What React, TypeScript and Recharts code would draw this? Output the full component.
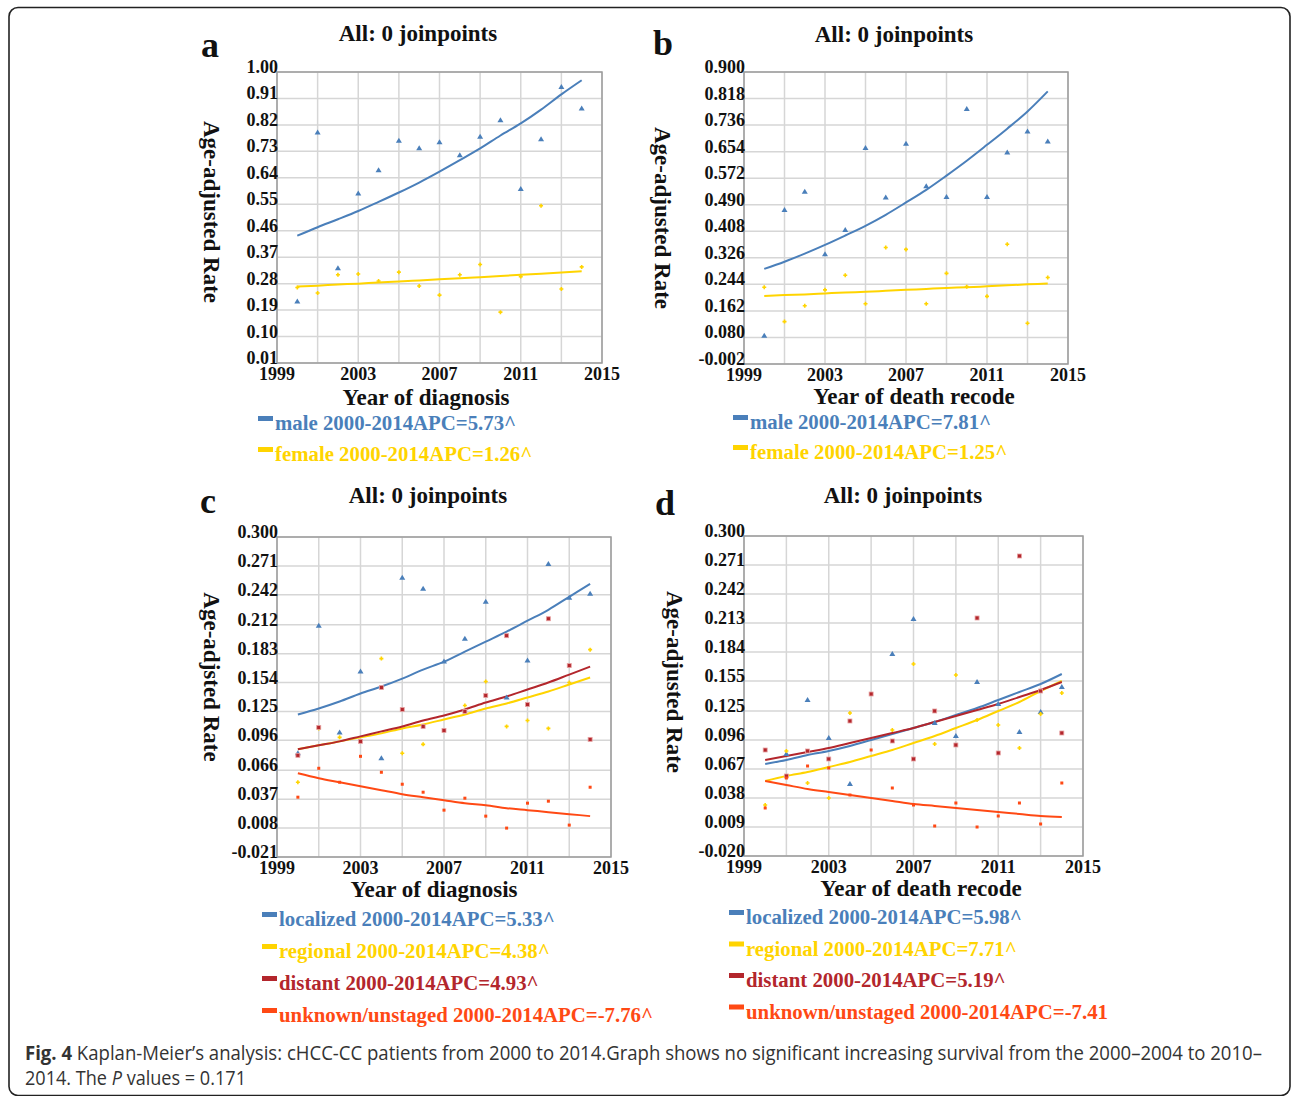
import React from "react";
import { ComposedChart, XAxis, YAxis, CartesianGrid, Line, ReferenceArea } from "recharts";

// years with observed rates
const years = [2000, 2001, 2002, 2003, 2004, 2005, 2006, 2007, 2008, 2009, 2010, 2011, 2012, 2013, 2014];
const xTicks = [1999, 2001, 2003, 2005, 2007, 2009, 2011, 2013, 2015];
const xLabels = [1999, 2003, 2007, 2011, 2015];

// panel a: year of diagnosis, by sex
const aMaleObs = [0.219, 0.794, 0.332, 0.587, 0.666, 0.766, 0.741, 0.761, 0.717, 0.78, 0.836, 0.602, 0.771, 0.949, 0.876];
const aMaleFit = [0.443, 0.472, 0.499, 0.527, 0.558, 0.59, 0.624, 0.661, 0.7, 0.74, 0.784, 0.825, 0.872, 0.924, 0.972];
const aFemaleObs = [0.267, 0.248, 0.31, 0.313, 0.289, 0.319, 0.272, 0.241, 0.31, 0.345, 0.183, 0.304, 0.545, 0.262, 0.337];
const aFemaleFit = [0.27, 0.273, 0.277, 0.28, 0.284, 0.287, 0.291, 0.295, 0.298, 0.302, 0.306, 0.31, 0.314, 0.318, 0.322];
const aTicks = [0.01, 0.1, 0.19, 0.28, 0.37, 0.46, 0.55, 0.64, 0.73, 0.82, 0.91, 1.0];

// panel b: year of death recode, by sex
const bMaleObs = [0.085, 0.474, 0.53, 0.337, 0.412, 0.665, 0.512, 0.678, 0.547, 0.514, 0.786, 0.514, 0.651, 0.716, 0.685];
const bMaleFit = [0.292, 0.314, 0.339, 0.366, 0.395, 0.425, 0.459, 0.497, 0.536, 0.58, 0.626, 0.675, 0.725, 0.778, 0.84];
const bFemaleObs = [0.235, 0.129, 0.178, 0.227, 0.272, 0.184, 0.358, 0.352, 0.184, 0.278, 0.237, 0.207, 0.368, 0.124, 0.265];
const bFemaleFit = [0.208, 0.211, 0.213, 0.216, 0.219, 0.221, 0.224, 0.227, 0.23, 0.233, 0.235, 0.238, 0.241, 0.244, 0.247];
const bTicks = [-0.002, 0.08, 0.162, 0.244, 0.326, 0.408, 0.49, 0.572, 0.654, 0.736, 0.818, 0.9];

// panel c: year of diagnosis, by stage
const cLocObs = [0.083, 0.211, 0.104, 0.165, 0.078, 0.259, 0.248, 0.175, 0.198, 0.235, 0.139, 0.176, 0.273, 0.239, 0.243];
const cLocFit = [0.122, 0.128, 0.135, 0.143, 0.15, 0.158, 0.167, 0.175, 0.185, 0.195, 0.205, 0.216, 0.227, 0.24, 0.253];
const cRegObs = [0.054, 0.108, 0.099, null, 0.178, 0.083, 0.092, null, 0.131, 0.155, 0.11, 0.116, 0.108, 0.154, 0.187];
const cRegFit = [0.087, 0.091, 0.095, 0.099, 0.103, 0.108, 0.112, 0.117, 0.122, 0.128, 0.133, 0.139, 0.145, 0.152, 0.159];
const cDisObs = [0.081, 0.109, null, 0.095, 0.149, 0.127, 0.11, 0.106, 0.125, 0.141, 0.201, 0.132, 0.218, 0.171, 0.097];
const cDisFit = [0.087, 0.091, 0.095, 0.1, 0.105, 0.11, 0.116, 0.121, 0.127, 0.134, 0.14, 0.147, 0.154, 0.162, 0.17];
const cUnkObs = [0.039, 0.068, 0.054, 0.08, 0.064, 0.052, 0.044, 0.026, 0.038, 0.02, 0.008, 0.033, 0.035, 0.011, 0.049];
const cUnkFit = [0.063, 0.058, 0.054, 0.05, 0.046, 0.042, 0.039, 0.036, 0.033, 0.031, 0.028, 0.026, 0.024, 0.022, 0.02];
const cTicks = [-0.021, 0.008, 0.037, 0.066, 0.096, 0.125, 0.154, 0.183, 0.212, 0.242, 0.271, 0.3];

// panel d: year of death recode, by stage
const dLocObs = [null, 0.082, 0.136, 0.098, 0.052, null, 0.182, 0.217, 0.113, 0.1, 0.154, 0.132, 0.104, 0.124, 0.149];
const dLocFit = [0.072, 0.076, 0.081, 0.085, 0.09, 0.096, 0.102, 0.108, 0.114, 0.121, 0.128, 0.136, 0.144, 0.152, 0.162];
const dRegObs = [0.031, 0.085, 0.053, 0.038, 0.123, null, 0.106, 0.172, 0.092, 0.161, 0.116, 0.111, 0.088, 0.122, 0.143];
const dRegFit = [0.055, 0.06, 0.064, 0.069, 0.074, 0.08, 0.086, 0.093, 0.1, 0.108, 0.116, 0.125, 0.134, 0.145, 0.155];
const dDisObs = [0.086, 0.06, 0.085, 0.077, 0.115, 0.142, 0.095, 0.077, 0.125, 0.091, 0.218, 0.083, 0.28, 0.145, 0.103];
const dDisFit = [0.076, 0.08, 0.084, 0.088, 0.093, 0.098, 0.103, 0.108, 0.114, 0.12, 0.126, 0.132, 0.139, 0.146, 0.154];
const dUnkObs = [0.028, 0.058, 0.07, 0.068, 0.041, 0.086, 0.048, 0.031, 0.01, 0.033, 0.009, 0.02, 0.033, 0.012, 0.053];
const dUnkFit = [0.055, 0.051, 0.047, 0.044, 0.041, 0.038, 0.035, 0.032, 0.03, 0.028, 0.026, 0.024, 0.022, 0.02, 0.019];
const dTicks = [-0.02, 0.009, 0.038, 0.067, 0.096, 0.125, 0.155, 0.184, 0.213, 0.242, 0.271, 0.3];

const BLUE = "#4a7fba";
const GOLD = "#ffd400";
const DARK = "#b3262c";
const ORANGE = "#ff4914";
const SERIF = "'Liberation Serif', 'Times New Roman', serif";
const CAPTION_FONT = "'Liberation Sans Narrow', 'Open Sans', sans-serif";

type Shape = "tri" | "sq" | "plus" | "dot";
type Series = { key: string; obs: (number | null)[]; fit: number[]; color: string; shape: Shape };

function marker(shape: Shape, color: string) {
  return (props: any) => {
    const { cx, cy, index } = props;
    const k = `m-${index}`;
    if (cx == null || cy == null || Number.isNaN(cy)) return <g key={k} />;
    if (shape === "tri")
      return <path key={k} d={`M${cx},${cy - 3}L${cx + 3},${cy + 2}L${cx - 3},${cy + 2}Z`} fill={color} />;
    if (shape === "sq")
      return <rect key={k} x={cx - 2} y={cy - 2} width={4} height={4} fill={color} stroke="#e7a2a2" strokeWidth={0.8} />;
    if (shape === "plus")
      return <path key={k} d={`M${cx - 2},${cy}H${cx + 2}M${cx},${cy - 2}V${cy + 2}`} stroke={color} strokeWidth={1.6} />;
    return <rect key={k} x={cx - 1.5} y={cy - 1.5} width={3} height={3} fill={color} />;
  };
}

type PanelProps = {
  left: number;
  top: number;
  plotW: number;
  plotH: number;
  yTicks: number[];
  digits: number;
  series: Series[];
};

function Panel({ left, top, plotW, plotH, yTicks, digits, series }: PanelProps) {
  const mL = 70, mT = 20, mR = 30, axisH = 30;
  const yDomain = [yTicks[0], yTicks[yTicks.length - 1]];
  const data = years.map((y, i) => {
    const row: Record<string, number | null> = { year: y };
    series.forEach((s) => {
      row[s.key] = s.obs[i];
      row[s.key + "Fit"] = s.fit[i];
    });
    return row;
  });

  const xTick = (p: any) => {
    const v = p.payload.value;
    if (!xLabels.includes(v)) return <g />;
    return (
      <text x={p.x} y={p.y + 17} textAnchor="middle" fontFamily={SERIF} fontWeight="bold" fontSize={18} fill="#111">
        {v}
      </text>
    );
  };
  const yTick = (p: any) => (
    <text x={p.x + 1} y={p.y + 1} textAnchor="end" fontFamily={SERIF} fontWeight="bold" fontSize={18} fill="#111">
      {Number(p.payload.value).toFixed(digits)}
    </text>
  );

  return (
    <div style={{ position: "absolute", left: left - mL, top: top - mT }}>
      <ComposedChart
        width={plotW + mL + mR}
        height={plotH + mT + axisH}
        data={data}
        margin={{ top: mT, right: mR, left: 0, bottom: 0 }}
      >
        <CartesianGrid stroke="#d6d6d6" strokeWidth={1.5} />
        <XAxis
          type="number"
          dataKey="year"
          domain={[1999, 2015]}
          ticks={xTicks}
          interval={0}
          height={axisH}
          axisLine={false}
          tickLine={false}
          tickSize={0}
          tickMargin={0}
          tick={xTick}
          allowDataOverflow
        />
        <YAxis
          type="number"
          domain={yDomain}
          ticks={yTicks}
          interval={0}
          width={mL}
          axisLine={false}
          tickLine={false}
          tickSize={0}
          tickMargin={0}
          tick={yTick}
          allowDataOverflow
        />
        <ReferenceArea
          x1={1999}
          x2={2015}
          y1={yDomain[0]}
          y2={yDomain[1]}
          fill="none"
          stroke="#9c9c9c"
          strokeWidth={1.5}
          ifOverflow="visible"
        />
        {series.map((s) => (
          <Line
            key={s.key + "Fit"}
            dataKey={s.key + "Fit"}
            type="monotone"
            stroke={s.color}
            strokeWidth={2}
            dot={false}
            activeDot={false}
            isAnimationActive={false}
          />
        ))}
        {series.map((s) => (
          <Line
            key={s.key}
            dataKey={s.key}
            stroke="none"
            dot={marker(s.shape, s.color)}
            activeDot={false}
            isAnimationActive={false}
          />
        ))}
      </ComposedChart>
    </div>
  );
}

const legendA = [
  { text: "male 2000-2014APC=5.73^", color: BLUE },
  { text: "female 2000-2014APC=1.26^", color: GOLD },
];
const legendB = [
  { text: "male 2000-2014APC=7.81^", color: BLUE },
  { text: "female 2000-2014APC=1.25^", color: GOLD },
];
const legendC = [
  { text: "localized 2000-2014APC=5.33^", color: BLUE },
  { text: "regional 2000-2014APC=4.38^", color: GOLD },
  { text: "distant 2000-2014APC=4.93^", color: DARK },
  { text: "unknown/unstaged 2000-2014APC=-7.76^", color: ORANGE },
];
const legendD = [
  { text: "localized 2000-2014APC=5.98^", color: BLUE },
  { text: "regional 2000-2014APC=7.71^", color: GOLD },
  { text: "distant 2000-2014APC=5.19^", color: DARK },
  { text: "unknown/unstaged 2000-2014APC=-7.41", color: ORANGE },
];

function Legend({ items, x, y, step }: { items: { text: string; color: string }[]; x: number; y: number; step: number }) {
  return (
    <g>
      {items.map((it, i) => (
        <g key={it.text}>
          <rect x={x} y={y + i * step - 14} width={15} height={5} fill={it.color} />
          <text x={x + 17} y={y + i * step} fontFamily={SERIF} fontWeight="bold" fontSize={20.8} fill={it.color}>
            {it.text}
          </text>
        </g>
      ))}
    </g>
  );
}

function Texts() {
  const t = { fontFamily: SERIF, fontWeight: "bold" as const, fill: "#111" };
  const ylab = (x: number, y: number, s: string) => (
    <text x={x} y={y} transform={`rotate(90 ${x} ${y})`} textAnchor="middle" dominantBaseline="central" fontSize={23} {...t}>
      {s}
    </text>
  );
  return (
    <svg width={1292} height={1096} style={{ position: "absolute", left: 0, top: 0, pointerEvents: "none" }}>
      <rect x={9} y={7.5} width={1281} height={1088} rx={9} fill="none" stroke="#222" strokeWidth={1.6} />
      <text x={201} y={57} fontSize={36} {...t}>a</text>
      <text x={653} y={55} fontSize={36} {...t}>b</text>
      <text x={200} y={513} fontSize={36} {...t}>c</text>
      <text x={655} y={515} fontSize={36} {...t}>d</text>

      <text x={418} y={41} textAnchor="middle" fontSize={23} {...t}>All: 0 joinpoints</text>
      <text x={894} y={42} textAnchor="middle" fontSize={23} {...t}>All: 0 joinpoints</text>
      <text x={428} y={503} textAnchor="middle" fontSize={23} {...t}>All: 0 joinpoints</text>
      <text x={903} y={503} textAnchor="middle" fontSize={23} {...t}>All: 0 joinpoints</text>

      {ylab(211, 212, "Age-adjusted Rate")}
      {ylab(662, 218, "Age-adjusted Rate")}
      {ylab(211, 677, "Age-adjsted Rate")}
      {ylab(674, 682, "Age-adjusted Rate")}

      <text x={426} y={405} textAnchor="middle" fontSize={23} {...t}>Year of diagnosis</text>
      <text x={914} y={404} textAnchor="middle" fontSize={23} {...t}>Year of death recode</text>
      <text x={434} y={897} textAnchor="middle" fontSize={23} {...t}>Year of diagnosis</text>
      <text x={921} y={896} textAnchor="middle" fontSize={23} {...t}>Year of death recode</text>

      <Legend items={legendA} x={258} y={430} step={31} />
      <Legend items={legendB} x={733} y={429} step={30} />
      <Legend items={legendC} x={262} y={926} step={32} />
      <Legend items={legendD} x={729} y={924} step={31.5} />

      <text x={25} y={1060} fontFamily={CAPTION_FONT} fontSize={20} fill="#333" textLength={1237} lengthAdjust="spacingAndGlyphs">
        <tspan fontWeight="bold">Fig. 4</tspan> Kaplan-Meier’s analysis: cHCC-CC patients from 2000 to 2014.Graph shows no significant increasing survival from the 2000–2004 to 2010–
      </text>
      <text x={25} y={1085} fontFamily={CAPTION_FONT} fontSize={20} fill="#333" textLength={221} lengthAdjust="spacingAndGlyphs">
        2014. The <tspan fontStyle="italic">P</tspan> values = 0.171
      </text>
    </svg>
  );
}

export default function App() {
  const seriesA: Series[] = [
    { key: "male", obs: aMaleObs, fit: aMaleFit, color: BLUE, shape: "tri" },
    { key: "female", obs: aFemaleObs, fit: aFemaleFit, color: GOLD, shape: "plus" },
  ];
  const seriesB: Series[] = [
    { key: "male", obs: bMaleObs, fit: bMaleFit, color: BLUE, shape: "tri" },
    { key: "female", obs: bFemaleObs, fit: bFemaleFit, color: GOLD, shape: "plus" },
  ];
  const seriesC: Series[] = [
    { key: "loc", obs: cLocObs, fit: cLocFit, color: BLUE, shape: "tri" },
    { key: "reg", obs: cRegObs, fit: cRegFit, color: GOLD, shape: "plus" },
    { key: "dis", obs: cDisObs, fit: cDisFit, color: DARK, shape: "sq" },
    { key: "unk", obs: cUnkObs, fit: cUnkFit, color: ORANGE, shape: "dot" },
  ];
  const seriesD: Series[] = [
    { key: "loc", obs: dLocObs, fit: dLocFit, color: BLUE, shape: "tri" },
    { key: "reg", obs: dRegObs, fit: dRegFit, color: GOLD, shape: "plus" },
    { key: "dis", obs: dDisObs, fit: dDisFit, color: DARK, shape: "sq" },
    { key: "unk", obs: dUnkObs, fit: dUnkFit, color: ORANGE, shape: "dot" },
  ];

  return (
    <div style={{ position: "absolute", left: 0, top: 0, width: 1292, height: 1096, background: "#fff", overflow: "hidden" }}>
      <Panel left={277} top={72} plotW={325} plotH={291} yTicks={aTicks} digits={2} series={seriesA} />
      <Panel left={744} top={72} plotW={324} plotH={292} yTicks={bTicks} digits={3} series={seriesB} />
      <Panel left={277} top={537} plotW={334} plotH={320} yTicks={cTicks} digits={3} series={seriesC} />
      <Panel left={744} top={536} plotW={339} plotH={320} yTicks={dTicks} digits={3} series={seriesD} />
      <Texts />
    </div>
  );
}
